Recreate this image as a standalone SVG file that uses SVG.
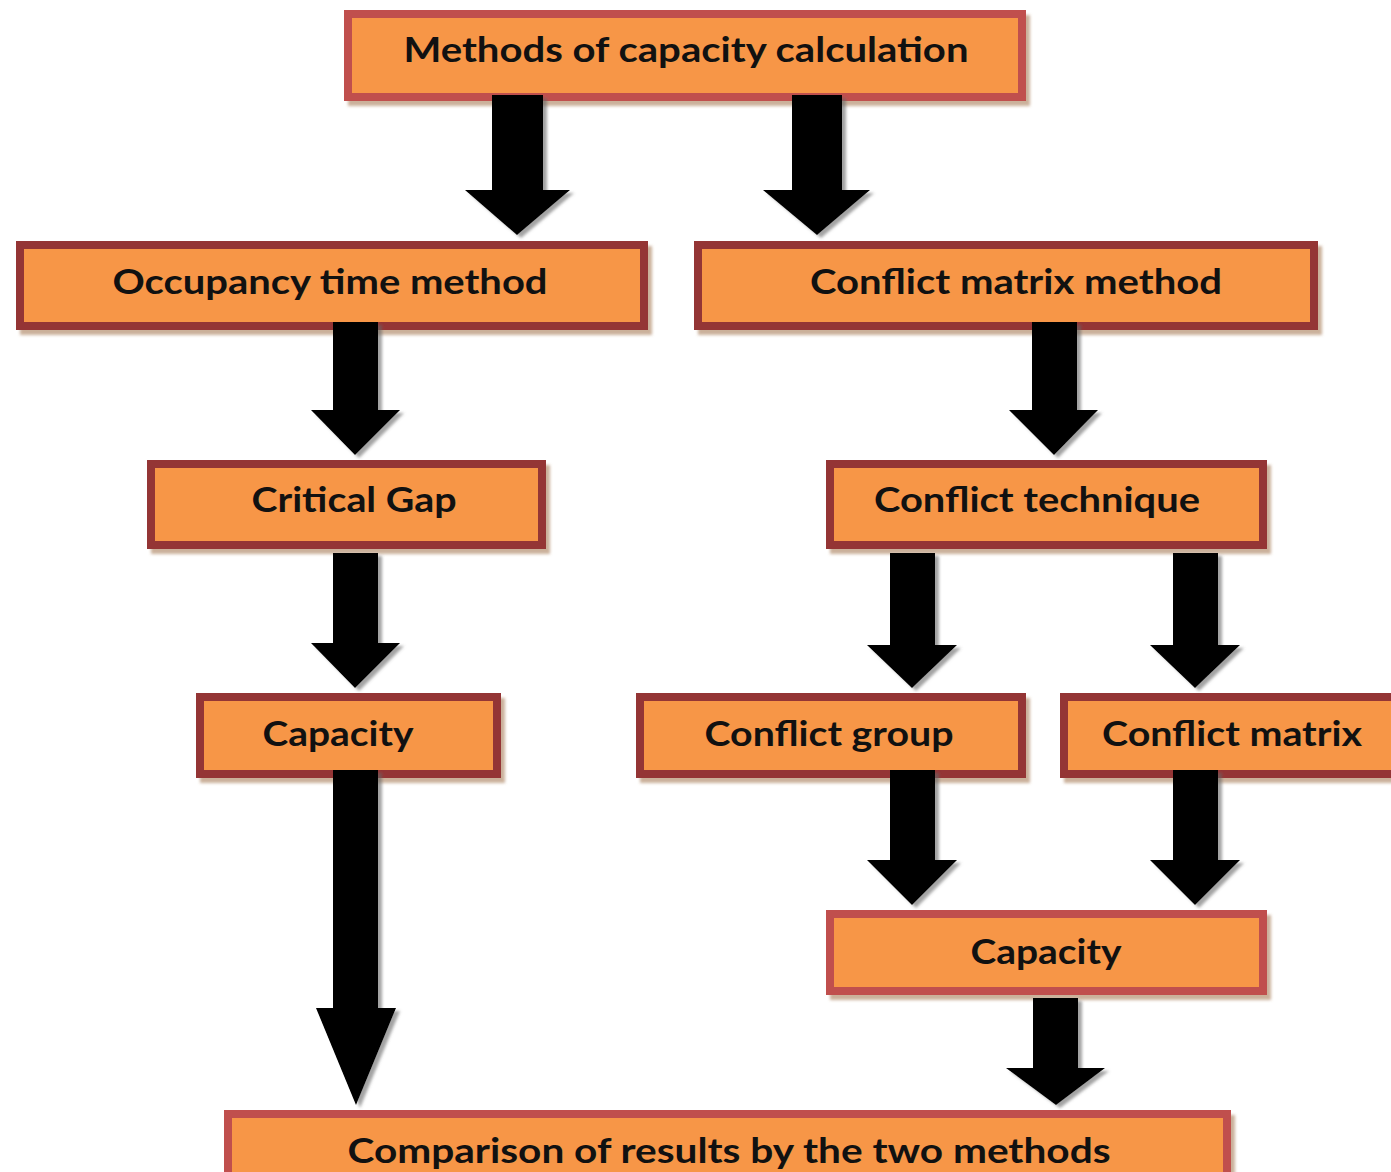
<svg xmlns="http://www.w3.org/2000/svg" width="1391" height="1172" viewBox="0 0 1391 1172">
<defs>
<filter id="bshadow" x="-5%" y="-10%" width="115%" height="130%">
<feDropShadow dx="4" dy="5" stdDeviation="1.5" flood-color="#a0704a" flood-opacity="0.55"/>
</filter>
<filter id="ashadow" x="-20%" y="-10%" width="140%" height="130%">
<feDropShadow dx="4" dy="3" stdDeviation="1.5" flood-color="#666" flood-opacity="0.6"/>
</filter>
</defs>
<style>
.box{fill:#f79646;stroke-width:8;filter:url(#bshadow)}
.dark{stroke:#943634}
.light{stroke:#c0504d}
.lbl{font-family:Lato,"Open Sans","Liberation Sans",sans-serif;font-weight:bold;font-size:34px;fill:#111;text-anchor:middle}
.arr{fill:#000;filter:url(#ashadow)}
</style>
<rect width="1391" height="1172" fill="#fff"/>
<g id="nodes">
<g id="n-methods"><rect class="box light" x="348" y="14" width="674" height="83"/><text class="lbl" x="686" y="62" textLength="565" lengthAdjust="spacingAndGlyphs">Methods of capacity calculation</text></g>
<g id="n-occupancy"><rect class="box dark" x="20" y="245" width="624" height="81"/><text class="lbl" x="330" y="294" textLength="435" lengthAdjust="spacingAndGlyphs">Occupancy time method</text></g>
<g id="n-cmm"><rect class="box dark" x="698" y="245" width="616" height="81"/><text class="lbl" x="1016" y="294" textLength="412" lengthAdjust="spacingAndGlyphs">Conflict matrix method</text></g>
<g id="n-critgap"><rect class="box dark" x="151" y="464" width="391" height="81"/><text class="lbl" x="354" y="512" textLength="205" lengthAdjust="spacingAndGlyphs">Critical Gap</text></g>
<g id="n-ctech"><rect class="box dark" x="830" y="464" width="433" height="81"/><text class="lbl" x="1037" y="512" textLength="326" lengthAdjust="spacingAndGlyphs">Conflict technique</text></g>
<g id="n-cap1"><rect class="box dark" x="200" y="697" width="297" height="77"/><text class="lbl" x="338" y="746" textLength="151" lengthAdjust="spacingAndGlyphs">Capacity</text></g>
<g id="n-cgroup"><rect class="box dark" x="640" y="697" width="382" height="77"/><text class="lbl" x="829" y="746" textLength="249" lengthAdjust="spacingAndGlyphs">Conflict group</text></g>
<g id="n-cmatrix"><rect class="box dark" x="1064" y="697" width="340" height="77"/><text class="lbl" x="1232" y="746" textLength="260" lengthAdjust="spacingAndGlyphs">Conflict matrix</text></g>
<g id="n-cap2"><rect class="box light" x="830" y="914" width="433" height="77"/><text class="lbl" x="1046" y="964" textLength="151" lengthAdjust="spacingAndGlyphs">Capacity</text></g>
<g id="n-compare"><rect class="box light" x="228" y="1114" width="999" height="80"/><text class="lbl" x="729" y="1163" textLength="763" lengthAdjust="spacingAndGlyphs">Comparison of results by the two methods</text></g>
</g>
<g id="connectors">
<path class="arr" d="M492 95H543V190H570L517 235L465 190H492Z"/>
<path class="arr" d="M792 95H842V190H870L817 235L763 190H792Z"/>
<path class="arr" d="M333 322H378V410H400L355 455L311 410H333Z"/>
<path class="arr" d="M1032 322H1077V410H1098L1054 455L1009 410H1032Z"/>
<path class="arr" d="M333 553H378V643H400L355 688L311 643H333Z"/>
<path class="arr" d="M890 553H935V645H957L912 688L867 645H890Z"/>
<path class="arr" d="M1173 553H1218V645H1240L1195 688L1150 645H1173Z"/>
<path class="arr" d="M333 770H378V1008H396L356 1105L316 1008H333Z"/>
<path class="arr" d="M890 770H935V860H957L912 905L867 860H890Z"/>
<path class="arr" d="M1173 770H1218V860H1240L1195 905L1150 860H1173Z"/>
<path class="arr" d="M1033 998H1078V1068H1105L1056 1105L1006 1068H1033Z"/>
</g>
</svg>
